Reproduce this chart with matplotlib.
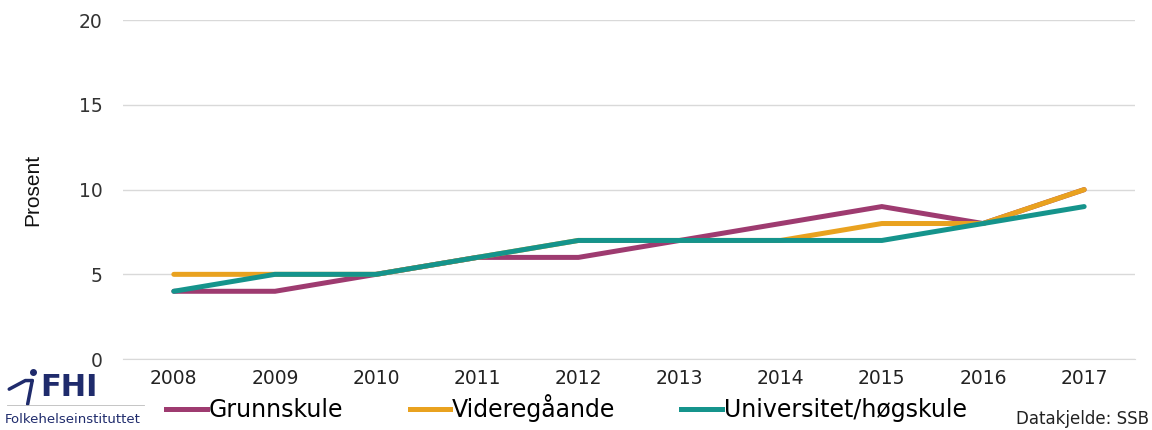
import matplotlib
matplotlib.use("Agg")
import matplotlib.pyplot as plt
from matplotlib.lines import Line2D
import numpy as np

plt.rcParams['font.family'] = ['DejaVu Sans']

years = ["2008", "2009", "2010", "2011", "2012", "2013", "2014", "2015", "2016", "2017"]
grunnskule = [4, 4, 5, 6, 6, 7, 8, 9, 8, 10]
videregaande = [5, 5, 5, 6, 7, 7, 7, 8, 8, 10]
universitet = [4, 5, 5, 6, 7, 7, 7, 7, 8, 9]
series_names = ["Grunnskule", "Videregåande", "Universitet/høgskule"]
colors = ["#9E3B70", "#E9A21F", "#15948C"]
yticks = [0, 5, 10, 15, 20]

fig = plt.figure(figsize=(11.52, 4.30), dpi=100)
ax = fig.add_axes([0.107, 0.165, 0.878, 0.788])

x = np.arange(len(years))
lw = 3.6
for vals, name, c in zip([grunnskule, videregaande, universitet], series_names, colors):
    ax.plot(x, vals, color=c, lw=lw, label=name, solid_capstyle='round', solid_joinstyle='miter')

ax.set_xlim(-0.5, len(years) - 0.5)
ax.set_ylim(0, 20)
ax.set_yticks(yticks)
ax.set_yticklabels([str(t) for t in yticks], fontsize=13.5, color="#333333")
ax.set_xticks(x)
ax.set_xticklabels(years, fontsize=13.5, color="#222222")
ax.tick_params(axis='both', length=0)
ax.tick_params(axis='y', pad=15)
ax.tick_params(axis='x', pad=7)
ax.grid(axis='y', color="#D9D9D9", lw=1)
ax.set_axisbelow(True)
for s in ["top", "right", "left"]:
    ax.spines[s].set_visible(False)
ax.spines["bottom"].set_color("#D9D9D9")
ax.set_ylabel("Prosent", fontsize=15, color="#111111",
              family=['Liberation Sans', 'DejaVu Sans'])
ax.yaxis.set_label_coords(-0.080, 0.5)

leg = fig.legend(handles=[Line2D([], [], color=c, lw=lw) for c in colors],
                 labels=series_names, loc='center left', bbox_to_anchor=(0.126, 0.05),
                 ncol=3, frameon=False, fontsize=17, handlelength=1.7,
                 handletextpad=0.1, columnspacing=2.8)

fig.text(0.997, 0.004, "Datakjelde: SSB", ha='right', va='bottom', fontsize=12, color="#222222")

# FHI logo
fig.text(0.035, 0.065, "FHI", ha='left', va='bottom', fontsize=22, fontweight='bold', color="#1F2B6C")
fig.text(0.004, 0.010, "Folkehelseinstituttet", ha='left', va='bottom', fontsize=9.5, color="#1F2B6C")
fig.add_artist(Line2D([0.008, 0.022, 0.028], [0.095, 0.115, 0.115], transform=fig.transFigure,
                      color="#1F2B6C", lw=2.5, solid_capstyle='round'))
fig.add_artist(Line2D([0.028, 0.024], [0.115, 0.06], transform=fig.transFigure,
                      color="#1F2B6C", lw=2.5, solid_capstyle='round'))
fig.add_artist(Line2D([0.029], [0.135], transform=fig.transFigure, marker='o',
                      color="#1F2B6C", ms=4, lw=0))
fig.add_artist(Line2D([0.006, 0.125], [0.058, 0.058], transform=fig.transFigure,
                      color="#BBBBBB", lw=0.6))

fig.savefig("out.png", dpi=100)
